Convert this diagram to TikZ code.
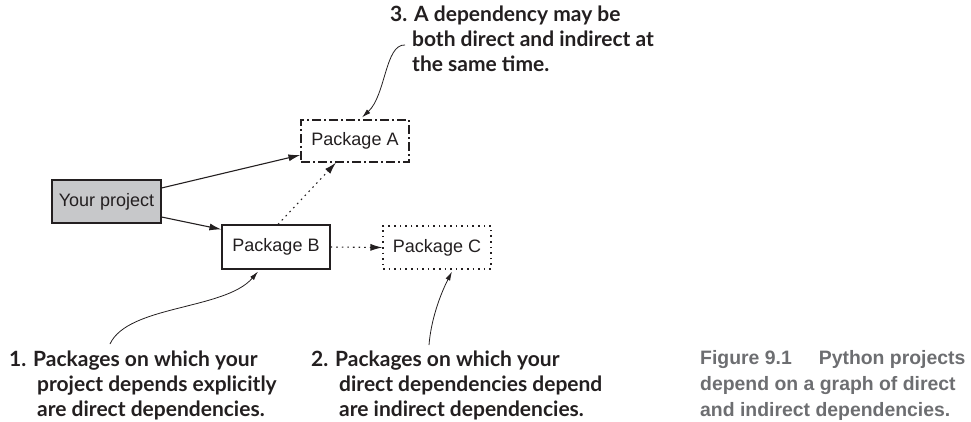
\documentclass[tikz,border=0pt]{standalone}
\usepackage{fontspec}
\setmainfont{Liberation Sans}
\newfontfamily\callfont{Lato}
\usetikzlibrary{arrows.meta,calc}
\definecolor{ink}{HTML}{231F20}
\definecolor{boxgray}{HTML}{C7C8CA}
\definecolor{capgray}{HTML}{6D6E71}
\tikzset{
  pkg/.style={draw=ink, line width=1.1pt, minimum width=108pt, minimum height=43pt, inner sep=0pt,
    font=\fontsize{18}{20}\selectfont, text=ink},
  dashdot/.style={dash pattern=on 9pt off 3pt on 2pt off 3pt},
  dotline/.style={dash pattern=on 1.6pt off 4pt},
  arr/.style={draw=ink, line width=1.1pt, -{Latex[length=12pt,width=7pt]}},
  callarr/.style={draw=ink, line width=0.8pt, -{Latex[length=9pt,width=5pt]}},
  call/.style={align=left, inner sep=0pt, text=ink,
    font=\callfont\bfseries\fontsize{21}{25}\selectfont},
  capt/.style={align=left, inner sep=0pt, text=capgray,
    font=\bfseries\fontsize{19.4}{26}\selectfont}
}
\begin{document}
\begin{tikzpicture}[x=1pt,y=-1pt]
\useasboundingbox (0,0) rectangle (971,422);
% boxes
\node[pkg, fill=boxgray, minimum width=109pt] (yp) at (106.5,201.5) {Your project};
\node[pkg, dashdot, minimum height=42pt] (a) at (355,141) {Package A};
\node[pkg, minimum height=44pt] (b) at (276,247) {Package B};
\node[pkg, dotline] (c) at (437,247.5) {Package C};
% connectors
\draw[arr] ([yshift=13.5pt]yp.east) -- ([yshift=-14pt]a.west);
\draw[arr] ([yshift=-15.5pt]yp.east) -- ([yshift=-5pt]b.north west);
\draw[arr, dotline] ([xshift=2pt]b.north) -- ([xshift=-19pt]a.south);
\draw[arr, dotline] (b.east) -- (c.west);
% callouts (anchor = baseline of last line)
\node[call, anchor=base west] (t1) at (9,416)
  {1. Packages on which your\\\hspace*{28pt}project depends explicitly\\\hspace*{28pt}are direct dependencies.};
\node[call, anchor=base west] (t2) at (311,416)
  {2. Packages on which your\\\hspace*{28pt}direct dependencies depend\\\hspace*{28pt}are indirect dependencies.};
\node[call, anchor=base west] (t3) at (390,72)
  {3. A dependency may be\\\hspace*{22pt}both direct and indirect at\\\hspace*{22pt}the same time.};
\coordinate (s1) at (110,344);
\coordinate (s2) at (429,345);
\coordinate (s3) at (405,45);
\draw[callarr] (s1) .. controls (128,305) and (225,310) .. ([xshift=-18pt,yshift=-2pt]b.south);
\draw[callarr] (s2) .. controls (431,320) and (440,295) .. ([xshift=15pt,yshift=-2pt]c.south);
\draw[callarr] (s3) .. controls (385,44) and (386,95) .. ([xshift=7pt,yshift=2pt]a.north);
% caption
\node[capt, anchor=base west] (cap) at (700,416)
  {Figure 9.1\hspace{27pt}Python projects\\depend on a graph of direct\\and indirect dependencies.};
\end{tikzpicture}
\end{document}
